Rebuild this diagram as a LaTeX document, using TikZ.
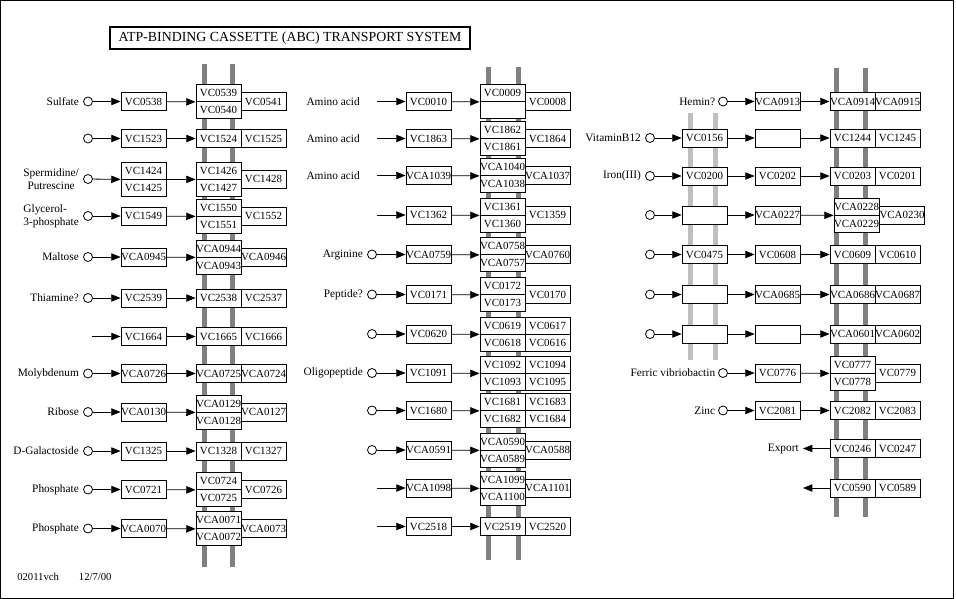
\documentclass[tikz,border=0pt]{standalone}
\usepackage{fontspec}
\setmainfont{Liberation Serif}
\usetikzlibrary{arrows.meta,positioning}

\begin{document}
\begin{tikzpicture}[
x=0.75pt, y=-0.75pt,
gene/.style={draw,fill=white,line width=0.6pt,minimum width=33.75pt,minimum height=13.5pt,inner sep=0pt,font=\fontsize{8.2}{8}\selectfont},
half/.style={gene,minimum height=12.75pt},
cpd/.style={circle,draw,line width=0.6pt,minimum size=6.75pt,inner sep=0pt},
lbl/.style={font=\fontsize{8.5}{9.5}\selectfont,inner sep=0pt},
flow/.style={line width=0.6pt,-{Triangle[length=7pt,width=5.5pt]}},
memb/.style={line width=3.75pt,black!50},
omemb/.style={line width=3.75pt,black!25}
]
\useasboundingbox (0,0) rectangle (956,599);
\draw[line width=0.75pt] (0.5,0.5) rectangle (953,598);

\node[draw,line width=1.5pt,minimum width=270pt,minimum height=16.5pt,inner sep=0pt,font=\fontsize{10.4}{10}\selectfont] (title) at (290,38) {ATP-BINDING CASSETTE (ABC) TRANSPORT SYSTEM};
\node[lbl,anchor=west,font=\fontsize{8}{8}\selectfont] (date) at (17,577) {02011vch\hspace{15pt}12/7/00};

% membranes
\draw[memb] (204.5,64) -- (204.5,567);
\draw[memb] (232,64) -- (232,567);
\draw[memb] (488.5,67) -- (488.5,560);
\draw[memb] (518,67) -- (518,560);
\draw[memb] (836.5,68) -- (836.5,517);
\draw[memb] (865.5,68) -- (865.5,517);
\draw[omemb] (690.5,113) -- (690.5,360);
\draw[omemb] (715.5,113) -- (715.5,360);

% left column
\node[cpd] (L1c) at (88,101.5) {};
\node[lbl,left=3pt of L1c] (L1l) {Sulfate};
\node[gene] (L1a) at (143.5,101.5) {VC0538};
\node[half] (L1t) at (218.5,93) {VC0539};
\node[half] (L1b) at (218.5,110) {VC0540};
\node[gene] (L1r) at (263.5,101.5) {VC0541};
\draw[flow] (L1c) -- (L1a);
\draw[flow] (L1a) -- (L1t.south west);

\node[cpd] (L2c) at (88,138.5) {};
\node[gene] (L2a) at (143.5,138.5) {VC1523};
\node[gene] (L2t) at (218.5,138.5) {VC1524};
\node[gene] (L2r) at (263.5,138.5) {VC1525};
\draw[flow] (L2c) -- (L2a);
\draw[flow] (L2a) -- (L2t);

\node[cpd] (L3c) at (88,179) {};
\node[lbl,left=3pt of L3c,align=center] (L3l) {Spermidine/\\Putrescine};
\node[half] (L3at) at (143.5,170.5) {VC1424};
\node[half] (L3ab) at (143.5,187.5) {VC1425};
\node[half] (L3t) at (218.5,170.5) {VC1426};
\node[half] (L3b) at (218.5,187.5) {VC1427};
\node[gene] (L3r) at (263.5,179) {VC1428};
\draw[flow] (L3c) -- (L3at.south west);
\draw[flow] (L3at.south east) -- (L3t.south west);

\node[cpd] (L4c) at (88,216) {};
\node[lbl,left=3pt of L4c,align=left] (L4l) {Glycerol-\\3-phosphate};
\node[gene] (L4a) at (143.5,216) {VC1549};
\node[half] (L4t) at (218.5,207.5) {VC1550};
\node[half] (L4b) at (218.5,224.5) {VC1551};
\node[gene] (L4r) at (263.5,216) {VC1552};
\draw[flow] (L4c) -- (L4a);
\draw[flow] (L4a) -- (L4t.south west);

\node[cpd] (L5c) at (88,257) {};
\node[lbl,left=3pt of L5c] (L5l) {Maltose};
\node[gene] (L5a) at (143.5,257) {VCA0945};
\node[half] (L5t) at (218.5,248.5) {VCA0944};
\node[half] (L5b) at (218.5,265.5) {VCA0943};
\node[gene] (L5r) at (263.5,257) {VCA0946};
\draw[flow] (L5c) -- (L5a);
\draw[flow] (L5a) -- (L5t.south west);

\node[cpd] (L6c) at (88,298) {};
\node[lbl,left=3pt of L6c] (L6l) {Thiamine?};
\node[gene] (L6a) at (143.5,298) {VC2539};
\node[gene] (L6t) at (218.5,298) {VC2538};
\node[gene] (L6r) at (263.5,298) {VC2537};
\draw[flow] (L6c) -- (L6a);
\draw[flow] (L6a) -- (L6t);

\coordinate (L7s) at (92,336.5);
\node[gene] (L7a) at (143.5,336.5) {VC1664};
\node[gene] (L7t) at (218.5,336.5) {VC1665};
\node[gene] (L7r) at (263.5,336.5) {VC1666};
\draw[flow] (L7s) -- (L7a);
\draw[flow] (L7a) -- (L7t);

\node[cpd] (L8c) at (88,373.5) {};
\node[lbl,left=3pt of L8c] (L8l) {Molybdenum};
\node[gene] (L8a) at (143.5,373.5) {VCA0726};
\node[gene] (L8t) at (218.5,373.5) {VCA0725};
\node[gene] (L8r) at (263.5,373.5) {VCA0724};
\draw[flow] (L8c) -- (L8a);
\draw[flow] (L8a) -- (L8t);

\node[cpd] (L9c) at (88,412) {};
\node[lbl,left=3pt of L9c] (L9l) {Ribose};
\node[gene] (L9a) at (143.5,412) {VCA0130};
\node[half] (L9t) at (218.5,403.5) {VCA0129};
\node[half] (L9b) at (218.5,420.5) {VCA0128};
\node[gene] (L9r) at (263.5,412) {VCA0127};
\draw[flow] (L9c) -- (L9a);
\draw[flow] (L9a) -- (L9t.south west);

\node[cpd] (L10c) at (88,451) {};
\node[lbl,left=3pt of L10c] (L10l) {D-Galactoside};
\node[gene] (L10a) at (143.5,451) {VC1325};
\node[gene] (L10t) at (218.5,451) {VC1328};
\node[gene] (L10r) at (263.5,451) {VC1327};
\draw[flow] (L10c) -- (L10a);
\draw[flow] (L10a) -- (L10t);

\node[cpd] (L11c) at (88,489.5) {};
\node[lbl,left=3pt of L11c] (L11l) {Phosphate};
\node[gene] (L11a) at (143.5,489.5) {VC0721};
\node[half] (L11t) at (218.5,481) {VC0724};
\node[half] (L11b) at (218.5,498) {VC0725};
\node[gene] (L11r) at (263.5,489.5) {VC0726};
\draw[flow] (L11c) -- (L11a);
\draw[flow] (L11a) -- (L11t.south west);

\node[cpd] (L12c) at (88,528.5) {};
\node[lbl,left=3pt of L12c] (L12l) {Phosphate};
\node[gene] (L12a) at (143.5,528.5) {VCA0070};
\node[half] (L12t) at (218.5,520) {VCA0071};
\node[half] (L12b) at (218.5,537) {VCA0072};
\node[gene] (L12r) at (263.5,528.5) {VCA0073};
\draw[flow] (L12c) -- (L12a);
\draw[flow] (L12a) -- (L12t.south west);

% middle column
\coordinate (M1s) at (377,101.5);
\node[lbl,anchor=east] (M1l) at (360,101.5) {Amino acid};
\node[gene] (M1a) at (428.5,101.5) {VC0010};
\node[half] (M1t) at (502.5,93) {VC0009};
\node[half] (M1b) at (502.5,110) {};
\node[gene] (M1r) at (547.5,101.5) {VC0008};
\draw[flow] (M1s) -- (M1a);
\draw[flow] (M1a) -- (M1t.south west);

\coordinate (M2s) at (377,138.5);
\node[lbl,anchor=east] (M2l) at (360,138.5) {Amino acid};
\node[gene] (M2a) at (428.5,138.5) {VC1863};
\node[half] (M2t) at (502.5,130) {VC1862};
\node[half] (M2b) at (502.5,147) {VC1861};
\node[gene] (M2r) at (547.5,138.5) {VC1864};
\draw[flow] (M2s) -- (M2a);
\draw[flow] (M2a) -- (M2t.south west);

\coordinate (M3s) at (377,175.5);
\node[lbl,anchor=east] (M3l) at (360,175.5) {Amino acid};
\node[gene] (M3a) at (428.5,175.5) {VCA1039};
\node[half] (M3t) at (502.5,167) {VCA1040};
\node[half] (M3b) at (502.5,184) {VCA1038};
\node[gene] (M3r) at (547.5,175.5) {VCA1037};
\draw[flow] (M3s) -- (M3a);
\draw[flow] (M3a) -- (M3t.south west);

\coordinate (M4s) at (377,215);
\node[gene] (M4a) at (428.5,215) {VC1362};
\node[half] (M4t) at (502.5,206.5) {VC1361};
\node[half] (M4b) at (502.5,223.5) {VC1360};
\node[gene] (M4r) at (547.5,215) {VC1359};
\draw[flow] (M4s) -- (M4a);
\draw[flow] (M4a) -- (M4t.south west);

\node[cpd] (M5c) at (372,254.5) {};
\node[lbl,left=3pt of M5c] (M5l) {Arginine};
\node[gene] (M5a) at (428.5,254.5) {VCA0759};
\node[half] (M5t) at (502.5,246) {VCA0758};
\node[half] (M5b) at (502.5,263) {VCA0757};
\node[gene] (M5r) at (547.5,254.5) {VCA0760};
\draw[flow] (M5c) -- (M5a);
\draw[flow] (M5a) -- (M5t.south west);

\node[cpd] (M6c) at (372,294.5) {};
\node[lbl,left=3pt of M6c] (M6l) {Peptide?};
\node[gene] (M6a) at (428.5,294.5) {VC0171};
\node[half] (M6t) at (502.5,286) {VC0172};
\node[half] (M6b) at (502.5,303) {VC0173};
\node[gene] (M6r) at (547.5,294.5) {VC0170};
\draw[flow] (M6c) -- (M6a);
\draw[flow] (M6a) -- (M6t.south west);

\node[cpd] (M7c) at (372,334) {};
\node[gene] (M7a) at (428.5,334) {VC0620};
\node[half] (M7t) at (502.5,325.5) {VC0619};
\node[half] (M7b) at (502.5,342.5) {VC0618};
\node[half] (M7rt) at (547.5,325.5) {VC0617};
\node[half] (M7rb) at (547.5,342.5) {VC0616};
\draw[flow] (M7c) -- (M7a);
\draw[flow] (M7a) -- (M7t.south west);

\node[cpd] (M8c) at (372,373) {};
\node[lbl,left=3pt of M8c] (M8l) {Oligopeptide};
\node[gene] (M8a) at (428.5,373) {VC1091};
\node[half] (M8t) at (502.5,364.5) {VC1092};
\node[half] (M8b) at (502.5,381.5) {VC1093};
\node[half] (M8rt) at (547.5,364.5) {VC1094};
\node[half] (M8rb) at (547.5,381.5) {VC1095};
\draw[flow] (M8c) -- (M8a);
\draw[flow] (M8a) -- (M8t.south west);

\node[cpd] (M9c) at (372,410.5) {};
\node[gene] (M9a) at (428.5,410.5) {VC1680};
\node[half] (M9t) at (502.5,402) {VC1681};
\node[half] (M9b) at (502.5,419) {VC1682};
\node[half] (M9rt) at (547.5,402) {VC1683};
\node[half] (M9rb) at (547.5,419) {VC1684};
\draw[flow] (M9c) -- (M9a);
\draw[flow] (M9a) -- (M9t.south west);

\node[cpd] (M10c) at (372,450) {};
\node[gene] (M10a) at (428.5,450) {VCA0591};
\node[half] (M10t) at (502.5,441.5) {VCA0590};
\node[half] (M10b) at (502.5,458.5) {VCA0589};
\node[gene] (M10r) at (547.5,450) {VCA0588};
\draw[flow] (M10c) -- (M10a);
\draw[flow] (M10a) -- (M10t.south west);

\coordinate (M11s) at (377,488);
\node[gene] (M11a) at (428.5,488) {VCA1098};
\node[half] (M11t) at (502.5,479.5) {VCA1099};
\node[half] (M11b) at (502.5,496.5) {VCA1100};
\node[gene] (M11r) at (547.5,488) {VCA1101};
\draw[flow] (M11s) -- (M11a);
\draw[flow] (M11a) -- (M11t.south west);

\coordinate (M12s) at (377,526.5);
\node[gene] (M12a) at (428.5,526.5) {VC2518};
\node[gene] (M12t) at (502.5,526.5) {VC2519};
\node[gene] (M12r) at (547.5,526.5) {VC2520};
\draw[flow] (M12s) -- (M12a);
\draw[flow] (M12a) -- (M12t);

% right column
\node[cpd] (R1c) at (723,101.5) {};
\node[lbl,left=2pt of R1c] (R1l) {Hemin?};
\node[gene] (R1b) at (777.5,101.5) {VCA0913};
\node[gene] (R1t) at (852.5,101.5) {VCA0914};
\node[gene] (R1r) at (897.5,101.5) {VCA0915};
\draw[flow] (R1c) -- (R1b);
\draw[flow] (R1b) -- (R1t);

\node[cpd] (R2c) at (650,138) {};
\node[lbl,left=3pt of R2c] (R2l) {VitaminB12};
\node[gene] (R2a) at (704.5,138) {VC0156};
\node[gene] (R2b) at (777.5,138) {};
\node[gene] (R2t) at (852.5,138) {VC1244};
\node[gene] (R2r) at (897.5,138) {VC1245};
\draw[flow] (R2c) -- (R2a);
\draw[flow] (R2a) -- (R2b);
\draw[flow] (R2b) -- (R2t);

\node[cpd] (R3c) at (650,176) {};
\node[lbl,left=3pt of R3c] (R3l) {Iron(III)};
\node[gene] (R3a) at (704.5,176) {VC0200};
\node[gene] (R3b) at (777.5,176) {VC0202};
\node[gene] (R3t) at (852.5,176) {VC0203};
\node[gene] (R3r) at (897.5,176) {VC0201};
\draw[flow] (R3c) -- (R3a);
\draw[flow] (R3a) -- (R3b);
\draw[flow] (R3b) -- (R3t);

\node[cpd] (R4c) at (650,215) {};
\node[gene] (R4a) at (704.5,215) {};
\node[gene] (R4b) at (777.5,215) {VCA0227};
\node[half] (R4t) at (856.5,206.5) {VCA0228};
\node[half] (R4u) at (856.5,223.5) {VCA0229};
\node[gene] (R4r) at (902,215) {VCA0230};
\draw[flow] (R4c) -- (R4a);
\draw[flow] (R4a) -- (R4b);
\draw[flow] (R4b) -- (R4t.south west);

\node[cpd] (R5c) at (650,254.5) {};
\node[gene] (R5a) at (704.5,254.5) {VC0475};
\node[gene] (R5b) at (777.5,254.5) {VC0608};
\node[gene] (R5t) at (852.5,254.5) {VC0609};
\node[gene] (R5r) at (897.5,254.5) {VC0610};
\draw[flow] (R5c) -- (R5a);
\draw[flow] (R5a) -- (R5b);
\draw[flow] (R5b) -- (R5t);

\node[cpd] (R6c) at (650,294.5) {};
\node[gene] (R6a) at (704.5,294.5) {};
\node[gene] (R6b) at (777.5,294.5) {VCA0685};
\node[gene] (R6t) at (852.5,294.5) {VCA0686};
\node[gene] (R6r) at (897.5,294.5) {VCA0687};
\draw[flow] (R6c) -- (R6a);
\draw[flow] (R6a) -- (R6b);
\draw[flow] (R6b) -- (R6t);

\node[cpd] (R7c) at (650,334) {};
\node[gene] (R7a) at (704.5,334) {};
\node[gene] (R7b) at (777.5,334) {};
\node[gene] (R7t) at (852.5,334) {VCA0601};
\node[gene] (R7r) at (897.5,334) {VCA0602};
\draw[flow] (R7c) -- (R7a);
\draw[flow] (R7a) -- (R7b);
\draw[flow] (R7b) -- (R7t);

\node[cpd] (R8c) at (723,373) {};
\node[lbl,left=2pt of R8c] (R8l) {Ferric vibriobactin};
\node[gene] (R8b) at (777.5,373) {VC0776};
\node[half] (R8t) at (852.5,364.5) {VC0777};
\node[half] (R8u) at (852.5,381.5) {VC0778};
\node[gene] (R8r) at (897.5,373) {VC0779};
\draw[flow] (R8c) -- (R8b);
\draw[flow] (R8b) -- (R8t.south west);

\node[cpd] (R9c) at (723,410.5) {};
\node[lbl,left=2pt of R9c] (R9l) {Zinc};
\node[gene] (R9b) at (777.5,410.5) {VC2081};
\node[gene] (R9t) at (852.5,410.5) {VC2082};
\node[gene] (R9r) at (897.5,410.5) {VC2083};
\draw[flow] (R9c) -- (R9b);
\draw[flow] (R9b) -- (R9t);

\coordinate (R10e) at (803,448.5);
\node[lbl,left=3pt of R10e] (R10l) {Export};
\node[gene] (R10t) at (852.5,448.5) {VC0246};
\node[gene] (R10r) at (897.5,448.5) {VC0247};
\draw[flow] (R10t) -- (R10e);

\coordinate (R11e) at (803,488);
\node[gene] (R11t) at (852.5,488) {VC0590};
\node[gene] (R11r) at (897.5,488) {VC0589};
\draw[flow] (R11t) -- (R11e);

\end{tikzpicture}
\end{document}
